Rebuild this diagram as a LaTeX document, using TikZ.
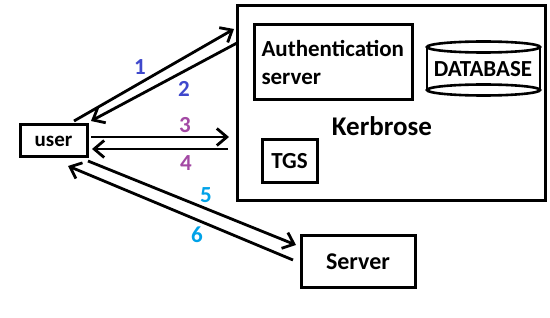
\documentclass[tikz,border=0pt]{standalone}
\usepackage{fontspec}
\setmainfont{Carlito}
\usetikzlibrary{arrows.meta}
\definecolor{cindigo}{HTML}{3F48CC}
\definecolor{cpurple}{HTML}{A349A4}
\definecolor{cturq}{HTML}{00A2E8}
\begin{document}
\begin{tikzpicture}[x=1pt,y=-1pt,
  box/.style={draw,line width=3pt,inner sep=0pt,font=\bfseries\fontsize{23}{28}\selectfont},
  lbl/.style={font=\bfseries\fontsize{23}{24}\selectfont,inner sep=0pt},
  conn/.style={line width=2.8pt,-{Straight Barb[length=10pt,width=17pt,line width=2.8pt]}},
  txt/.style={font=\bfseries\fontsize{23}{24}\selectfont,inner sep=0pt}]
\useasboundingbox (0,0) rectangle (550,318);
% Kerbrose container
\node[box,minimum width=308pt,minimum height=195pt] (kerb) at (391,103.5) {};
\node[txt,font=\bfseries\fontsize{27}{28}\selectfont] (kerbt) at (382,126) {Kerbrose};
\node[box,minimum width=158pt,minimum height=75pt,align=left,text width=143pt] (auth) at (333,62.5) {Authentication\\server};
\node[box,minimum width=55pt,minimum height=43pt] (tgs) at (289.5,161.5) {TGS};
\node[txt] (db) at (483,69) {DATABASE};
\draw[line width=2.6pt] (db.center) ++(-56,-22) coordinate (dbtl) -- ++(0,43);
\draw[line width=2.6pt] (db.center) ++(57,-22) -- ++(0,43);
\draw[line width=2.6pt] (db.center) ++(0.5,-22) ellipse [x radius=56.5pt,y radius=5.5pt];
\draw[line width=2.6pt] (db.center) ++(0.5,21) ellipse [x radius=56.5pt,y radius=5.5pt];
\node[box,minimum width=67pt,minimum height=32pt,font=\bfseries\fontsize{21}{22}\selectfont] (user) at (53.5,141) {user};
\node[box,minimum width=114pt,minimum height=52pt,font=\bfseries\fontsize{24}{24}\selectfont] (server) at (358,262) {Server};
% connector end points
\coordinate (s1) at (74,121);  \coordinate (e1) at (234,29);
\coordinate (s2) at (237,43);  \coordinate (e2) at (91,121);
\coordinate (s3) at (91,137);  \coordinate (e3) at (229,137);
\coordinate (s4) at (228,149); \coordinate (e4) at (92,149);
\coordinate (s5) at (88,161);  \coordinate (e5) at (296,245);
\coordinate (s6) at (293,260); \coordinate (e6) at (68,166);
\draw[conn] (s1) -- (e1);
\draw[conn] (s2) -- (e2);
\draw[conn] (s3) -- (e3);
\draw[conn] (s4) -- (e4);
\draw[conn] (s5) -- (e5);
\draw[conn] (s6) -- (e6);
\node[lbl,text=cindigo] (l1) at (140,67) {1};
\node[lbl,text=cindigo] (l2) at (184,89) {2};
\node[lbl,text=cpurple] (l3) at (185,125) {3};
\node[lbl,text=cpurple] (l4) at (186,163) {4};
\node[lbl,text=cturq] (l5) at (206,195) {5};
\node[lbl,text=cturq] (l6) at (197,235) {6};
\end{tikzpicture}
\end{document}
